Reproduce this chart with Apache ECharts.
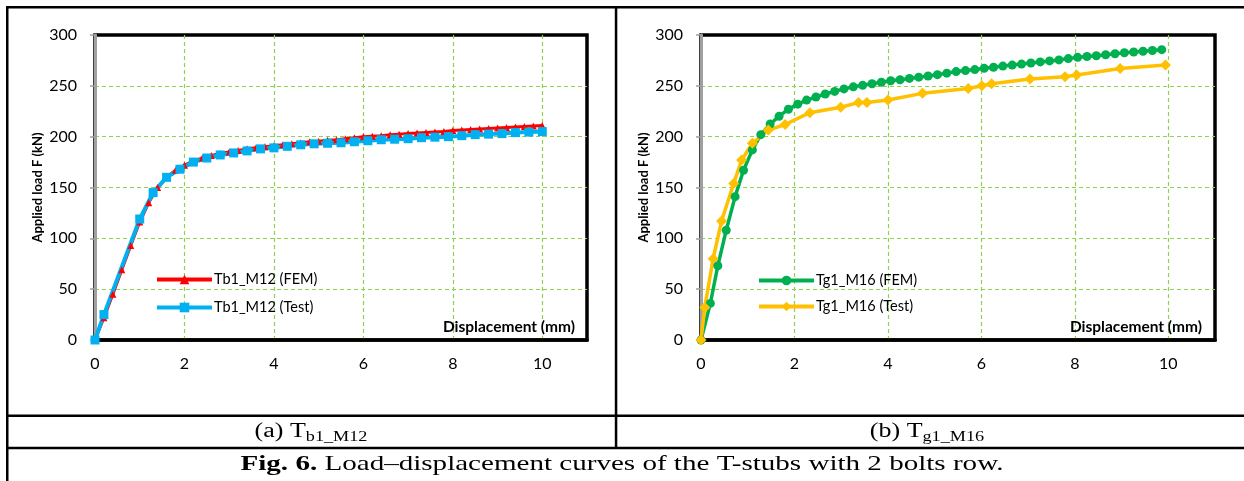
<!DOCTYPE html>
<html><head><meta charset="utf-8">
<script src="https://cdn.jsdelivr.net/npm/echarts@6/dist/echarts.min.js"></script>
<style>html,body{margin:0;padding:0;background:#fff}#c{width:1244px;height:481px}</style>
</head><body><div id="c"></div>
<script>
// ---- data ----
const xTicks = [0, 2, 4, 6, 8, 10];
const yTicks = [0, 50, 100, 150, 200, 250, 300];

const femA_name = 'Tb1_M12 (FEM)';
const femA_x = [0,0.2,0.4,0.6,0.8,1.0,1.2,1.4,1.6,1.8,2.0,2.2,2.4,2.6,2.8,3.0,3.2,3.4,3.6,3.8,4.0,4.2,4.4,4.6,4.8,5.0,5.2,5.4,5.6,5.8,6.0,6.2,6.4,6.6,6.8,7.0,7.2,7.4,7.6,7.8,8.0,8.2,8.4,8.6,8.8,9.0,9.2,9.4,9.6,9.8,10.0];
const femA_y = [0,22,45,69,93,116,135,150,160,167,172,176,179,181.5,183.5,185,186.5,188,189,190,191,192,193,194,195,195.5,196.5,197,198,199,200,200.5,201,202,202.5,203,203.5,204,204.5,205,206,206.5,207,207.5,208,208.5,209,209.5,210,210.5,211];

const testA_name = 'Tb1_M12 (Test)';
const testA_x = [0,0.2,1.0,1.3,1.6,1.9,2.2,2.5,2.8,3.1,3.4,3.7,4.0,4.3,4.6,4.9,5.2,5.5,5.8,6.1,6.4,6.7,7.0,7.3,7.6,7.9,8.2,8.5,8.8,9.1,9.4,9.7,10.0];
const testA_y = [0,25,119,145,160,168,175,179,182,184,186,188,189,190.5,192,193,193.5,194,195,196,197,197.5,198,199,199.5,200,201,202,202.5,203,204,204.5,205];

const femB_name = 'Tg1_M16 (FEM)';
const femB_x = [0,0.2,0.36,0.54,0.73,0.91,1.1,1.28,1.48,1.67,1.87,2.07,2.26,2.46,2.66,2.86,3.06,3.26,3.46,3.66,3.86,4.06,4.26,4.46,4.66,4.86,5.06,5.26,5.46,5.66,5.86,6.06,6.26,6.46,6.66,6.86,7.06,7.26,7.46,7.66,7.86,8.06,8.26,8.46,8.66,8.86,9.06,9.26,9.46,9.66,9.86];
const femB_y = [0,36,73,108,141,167,187,202,212.5,220,227,232,236,239,242,244.5,247,249,250.5,252,253.5,255,256,257.3,258.5,259.7,261,262.5,264,265,266,267.2,268.3,269.4,270.4,271.4,272.5,273.5,274.5,275.5,276.8,278,278.8,279.6,280.6,281.6,282.5,283.3,284,284.8,285.6];

const testB_name = 'Tg1_M16 (Test)';
const testB_x = [0,0.08,0.26,0.44,0.7,0.87,1.1,1.44,1.8,2.33,2.99,3.37,3.55,4.0,4.74,5.72,6.01,6.22,7.04,7.79,8.04,8.97,9.94];
const testB_y = [0,32,80,117,154,177,193.5,206.5,212,223.6,229,233.5,233.5,236,242.6,247.4,250,252,256.7,259,260.6,267,270.5];

const captionA = ['(a) T', 'b1_M12'];
const captionB = ['(b) T', 'g1_M16'];
const figBold = 'Fig. 6.';
const figRest = ' Load\u2013displacement curves of the T-stubs with 2 bolts row.';
const xTitle = 'Displacement (mm)';
const yTitle = 'Applied load F (kN)';

// ---- helpers ----
const zip = (xs, ys) => xs.map((x, i) => [x, ys[i]]);
const ctx = document.createElement('canvas').getContext('2d');
const tw = (font, s) => { ctx.font = font; return ctx.measureText(s).width; };

const AXFONT = 'Lato';
const SERIF = '"Liberation Serif", "Times New Roman", serif';
const GRIDLINE = { color: '#92D050', type: [4, 3], width: 1.2 };

function xAxis(gi) {
  return {
    type: 'value', gridIndex: gi, min: 0, max: 11, interval: 2,
    axisLine: { show: true, onZero: false, lineStyle: { color: '#000', width: 3.5 } },
    axisTick: { show: false },
    axisLabel: { margin: 16, fontFamily: AXFONT, fontSize: 16, color: '#000',
      formatter: v => xTicks.includes(v) ? String(v) : '' },
    splitLine: { show: true, showMinLine: false, showMaxLine: false, lineStyle: GRIDLINE }
  };
}
function yAxis(gi) {
  return {
    type: 'value', gridIndex: gi, min: 0, max: 300, interval: 50,
    name: yTitle, nameLocation: 'middle', nameGap: 51,
    nameTextStyle: { fontFamily: AXFONT, fontWeight: 'bold', fontSize: 13, color: '#000' },
    axisLine: { show: true, lineStyle: { color: '#A0A0A0', width: 3 } },
    axisTick: { show: true, length: 5, lineStyle: { color: '#A0A0A0', width: 1.5 } },
    axisLabel: { margin: 18, fontFamily: AXFONT, fontSize: 16, color: '#000',
      formatter: v => yTicks.includes(v) ? String(v) : '' },
    splitLine: { show: true, showMinLine: false, showMaxLine: false, lineStyle: GRIDLINE }
  };
}
function legend(names, left, top, gap) {
  return {
    data: names, orient: 'vertical', left: left, top: top, padding: 0,
    itemWidth: 55, itemHeight: 12, itemGap: gap,
    lineStyle: { width: 4 },
    textStyle: { fontFamily: AXFONT, fontSize: 14.5, color: '#000', padding: [0, 0, 0, -3] },
    selectedMode: false
  };
}

const gfx = [];
function lineRect(x, y, w, h) {
  gfx.push({ type: 'rect', shape: { x, y, width: w, height: h }, style: { fill: '#000' }, silent: true });
}
lineRect(6, 6, 1238, 2.5);      // top
lineRect(6, 6, 2.5, 475);       // left
lineRect(614.8, 6, 2.5, 442.5); // divider
lineRect(6, 414.5, 1238, 2.5);
lineRect(6, 446.8, 1238, 2.5);

const SX = 1.3; // horizontal stretch of the caption typeface in the source figure
function subCaption(parts, cx) {
  const f1 = '20px ' + SERIF, f2 = '14px ' + SERIF;
  const w1 = tw(f1, parts[0]) * SX, w2 = tw(f2, parts[1]) * SX;
  const x0 = cx - (w1 + w2) / 2;
  gfx.push({ type: 'text', silent: true, x: x0, y: 431.5, scaleX: SX,
    style: { text: parts[0], x: 0, y: 0, font: f1, fill: '#000', textAlign: 'left', textVerticalAlign: 'middle' } });
  gfx.push({ type: 'text', silent: true, x: x0 + w1, y: 437.5, scaleX: SX,
    style: { text: parts[1], x: 0, y: 0, font: f2, fill: '#000', textAlign: 'left', textVerticalAlign: 'middle' } });
}
subCaption(captionA, 311);
subCaption(captionB, 927);
(function () {
  const fb = 'bold 22px ' + SERIF, fr = '22px ' + SERIF;
  const wb = tw(fb, figBold), wr = tw(fr, figRest);
  const sx = 763 / (wb + wr);
  const x0 = 622 - (wb + wr) * sx / 2;
  gfx.push({ type: 'text', silent: true, x: x0, y: 464.5, scaleX: sx,
    style: { text: figBold, x: 0, y: 0, font: fb, fill: '#000', textAlign: 'left', textVerticalAlign: 'middle' } });
  gfx.push({ type: 'text', silent: true, x: x0 + wb * sx, y: 464.5, scaleX: sx,
    style: { text: figRest, x: 0, y: 0, font: fr, fill: '#000', textAlign: 'left', textVerticalAlign: 'middle' } });
})();
[[575, 327], [1202, 327]].forEach(p => {
  gfx.push({ type: 'text', silent: true, z: 10, style: { text: xTitle, x: p[0], y: p[1], font: 'bold 15.5px ' + AXFONT, fill: '#000', textAlign: 'right', textVerticalAlign: 'middle' } });
});

const chart = echarts.init(document.getElementById('c'), null, { renderer: 'canvas' });
chart.setOption({
  animation: false,
  backgroundColor: '#fff',
  grid: [
    { left: 95, top: 35, width: 492, height: 305, show: true, borderColor: '#000', borderWidth: 3.5, backgroundColor: 'transparent' },
    { left: 701, top: 35, width: 514, height: 305, show: true, borderColor: '#000', borderWidth: 3.5, backgroundColor: 'transparent' }
  ],
  xAxis: [xAxis(0), xAxis(1)],
  yAxis: [yAxis(0), yAxis(1)],
  legend: [legend([femA_name, testA_name], 155, 272, 13), legend([femB_name, testB_name], 757, 273, 11)],
  series: [
    { name: femA_name, type: 'line', xAxisIndex: 0, yAxisIndex: 0, data: zip(femA_x, femA_y),
      color: '#FF0000', lineStyle: { width: 3 }, symbol: 'triangle', symbolSize: 7, showAllSymbol: true },
    { name: testA_name, type: 'line', xAxisIndex: 0, yAxisIndex: 0, data: zip(testA_x, testA_y),
      color: '#00B0F0', lineStyle: { width: 4 }, symbol: 'rect', symbolSize: 9, showAllSymbol: true },
    { name: femB_name, type: 'line', xAxisIndex: 1, yAxisIndex: 1, data: zip(femB_x, femB_y),
      color: '#00B050', lineStyle: { width: 3.5 }, symbol: 'circle', symbolSize: 9, showAllSymbol: true },
    { name: testB_name, type: 'line', xAxisIndex: 1, yAxisIndex: 1, data: zip(testB_x, testB_y),
      color: '#FFC000', lineStyle: { width: 3.5 }, symbol: 'diamond', symbolSize: 11, showAllSymbol: true }
  ],
  graphic: gfx
});
</script>
</body></html>
